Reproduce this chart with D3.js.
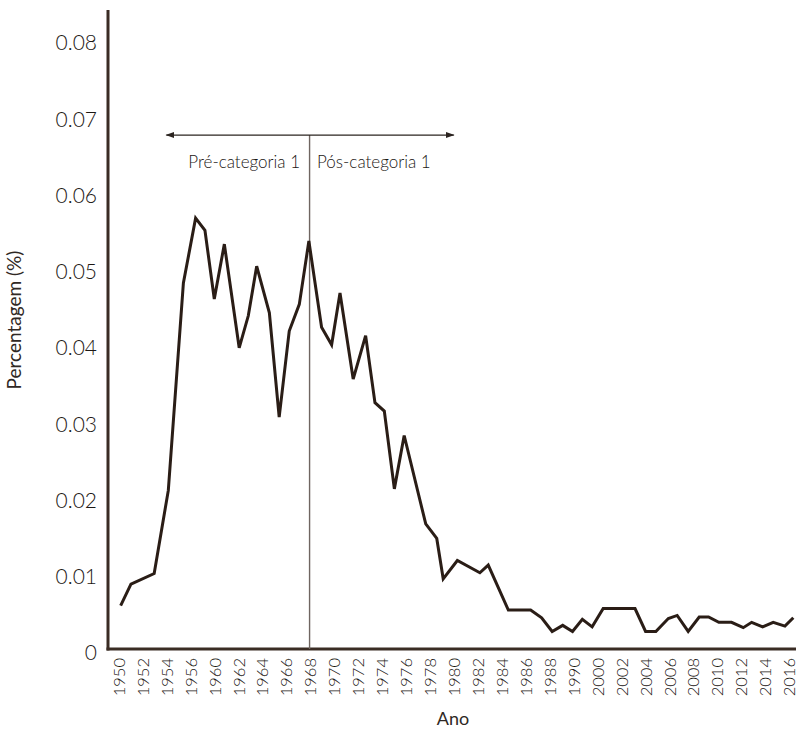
<!DOCTYPE html>
<html lang="pt">
    <head>
        <meta charset="utf-8">
        <title>Percentagem por ano</title>
        <script src="https://d3js.org/d3.v7.min.js"></script>
        <style>
            body { margin: 0; background: #fff; }
            text { font-family: Lato, "Open Sans", sans-serif; fill: #2f2824; font-weight: 400; }
            .tick-label { font-weight: 300; fill: #1c1714; }
        </style>
    </head>
    <body>
        <script type="text/javascript">

            // rótulos do eixo x (posições 0..28)
            var anos = ["1950","1952","1954","1956","1960","1962","1964","1966","1968","1970",
                        "1972","1974","1976","1978","1980","1982","1984","1986","1988","1990",
                        "2000","2002","2004","2006","2008","2010","2012","2014","2016"];

            // posição de cada ponto, em unidades de rótulo do eixo x
            var posicao = [0.09, 0.52, 1.49, 2.08, 2.71, 3.22, 3.61, 4.00, 4.42, 5.04,
                           5.42, 5.77, 6.30, 6.71, 7.13, 7.55, 7.95, 8.48, 8.90, 9.25,
                           9.80, 10.32, 10.71, 11.10, 11.52, 11.93, 12.83, 13.29, 13.56, 14.15,
                           15.09, 15.44, 16.28, 17.21, 17.67, 18.11, 18.55, 18.96, 19.37, 19.78,
                           20.24, 21.57, 22.01, 22.44, 22.96, 23.33, 23.79, 24.25, 24.64, 25.07,
                           25.60, 26.09, 26.44, 26.90, 27.34, 27.83, 28.18];

            var percentagem = [0.0057, 0.0085, 0.0099, 0.0208, 0.0480, 0.0565, 0.0549, 0.0459, 0.0531, 0.0395,
                               0.0437, 0.0502, 0.0441, 0.0304, 0.0417, 0.0452, 0.0535, 0.0422, 0.0399, 0.0467,
                               0.0354, 0.0411, 0.0323, 0.0312, 0.0210, 0.0280, 0.0164, 0.0145, 0.0092, 0.0116,
                               0.0100, 0.0110, 0.0051, 0.0051, 0.0041, 0.0023, 0.0031, 0.0023, 0.0039, 0.0029,
                               0.0053, 0.0053, 0.0023, 0.0023, 0.0040, 0.0044, 0.0023, 0.0042, 0.0042, 0.0035,
                               0.0035, 0.0028, 0.0035, 0.0029, 0.0035, 0.0030, 0.0041];

            var yTicks = [0, 0.01, 0.02, 0.03, 0.04, 0.05, 0.06, 0.07, 0.08];

            // anotação: seta de 1954 a 1978, corte em 1968
            var setaInicio = 2, setaFim = 14, corte = 8, setaNivel = 0.0674;
            var rotuloAntes = "Pré-categoria 1",
                rotuloDepois = "Pós-categoria 1";

            var width = 801, height = 735;
            var axisLeft = 108, axisRight = 796, axisBottom = 649;

            var svg = d3.select("body")
                        .append("svg")
                        .attr("width", width)
                        .attr("height", height);

            var xScale = d3.scaleLinear()
                            .domain([0, anos.length - 1])
                            .range([118.5, 789]);

            var yScale = d3.scaleLinear()
                            .domain([0, 0.08])
                            .range([axisBottom, 39]);

            var data = posicao.map(function(p, i) {
                return { x: p, y: percentagem[i] };
            });

            var ink = "#3a2c24";

            // setas
            var defs = svg.append("defs");
            ["seta-fim", "seta-inicio"].forEach(function(id, k) {
                defs.append("marker")
                    .attr("id", id)
                    .attr("viewBox", "0 0 10 10")
                    .attr("refX", 9).attr("refY", 5)
                    .attr("markerWidth", 9).attr("markerHeight", 9)
                    .attr("markerUnits", "userSpaceOnUse")
                    .attr("orient", k === 0 ? "auto" : "auto-start-reverse")
                    .append("path")
                    .attr("d", "M0,1.5 L10,5 L0,8.5 Z")
                    .attr("fill", "#2b2420");
            });

            // eixo y
            svg.append("line")
                .attr("x1", axisLeft).attr("x2", axisLeft)
                .attr("y1", 10).attr("y2", axisBottom + 1.5)
                .attr("stroke", ink).attr("stroke-width", 3);

            svg.append("g")
                .selectAll("text")
                .data(yTicks)
                .enter()
                .append("text")
                .attr("class", "tick-label")
                .attr("x", 97)
                .attr("y", function(d) { return yScale(d) + 4; })
                .attr("dy", "0.35em")
                .attr("text-anchor", "end")
                .style("font-size", "21px")
                .text(function(d) { return d === 0 ? "0" : d3.format(".2f")(d); });

            // eixo x
            var xAxis = d3.axisBottom(xScale)
                          .tickValues(d3.range(anos.length))
                          .tickSize(0)
                          .tickFormat(function(i) { return anos[i]; });

            var gx = svg.append("g")
                .attr("transform", "translate(0," + axisBottom + ")")
                .call(xAxis);
            gx.select(".domain").remove();
            gx.selectAll("text")
                .attr("class", "tick-label")
                .attr("transform", "rotate(-90)")
                .attr("text-anchor", "end")
                .attr("x", -9)
                .attr("y", 0)
                .attr("dy", "0.35em")
                .attr("fill", null)
                .style("font-size", "16.5px")
                .style("font-family", "Lato, sans-serif");

            svg.append("line")
                .attr("x1", axisLeft - 1.5).attr("x2", axisRight)
                .attr("y1", axisBottom).attr("y2", axisBottom)
                .attr("stroke", ink).attr("stroke-width", 3);

            // linha de corte e seta
            svg.append("line")
                .attr("x1", xScale(corte) - 0.5).attr("x2", xScale(corte) - 0.5)
                .attr("y1", yScale(setaNivel)).attr("y2", axisBottom)
                .attr("stroke", "#6f6561").attr("stroke-width", 1.4);

            svg.append("line")
                .attr("x1", xScale(setaInicio)).attr("x2", xScale(setaFim))
                .attr("y1", yScale(setaNivel)).attr("y2", yScale(setaNivel))
                .attr("stroke", "#2b2420").attr("stroke-width", 1.3)
                .attr("marker-start", "url(#seta-inicio)")
                .attr("marker-end", "url(#seta-fim)");

            svg.append("text")
                .attr("class", "tick-label")
                .attr("x", xScale(corte) - 10)
                .attr("y", yScale(setaNivel) + 33)
                .attr("text-anchor", "end")
                .style("font-size", "17px")
                .text(rotuloAntes);

            svg.append("text")
                .attr("class", "tick-label")
                .attr("x", xScale(corte) + 7)
                .attr("y", yScale(setaNivel) + 33)
                .attr("text-anchor", "start")
                .style("font-size", "17px")
                .text(rotuloDepois);

            // série
            var line = d3.line()
                         .x(function(d) { return xScale(d.x); })
                         .y(function(d) { return yScale(d.y); });

            svg.append("path")
                .datum(data)
                .attr("d", line)
                .attr("fill", "none")
                .attr("stroke", "#2a1d16")
                .attr("stroke-width", 3)
                .attr("stroke-linejoin", "miter");

            // títulos
            svg.append("text")
                .attr("transform", "translate(21,320) rotate(-90)")
                .attr("text-anchor", "middle")
                .style("font-size", "19px")
                .text("Percentagem (%)");

            svg.append("text")
                .attr("x", 453)
                .attr("y", 725)
                .attr("text-anchor", "middle")
                .style("font-size", "18px")
                .text("Ano");

        </script>
    </body>
</html>
